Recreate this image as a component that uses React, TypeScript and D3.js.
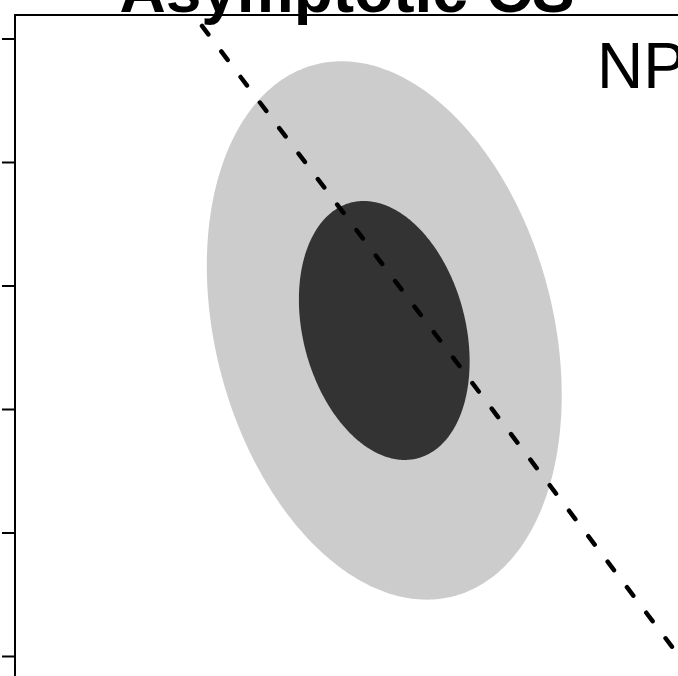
import React from "react";
import * as d3 from "d3";

// ---- data ----
const yTicks = [0.2, 0.4, 0.6, 0.8, 1.0, 1.2];
const centerXY = [0.598, 0.728];
const sdXY = [0.1174, 0.1781];
const rho = -0.24;
const levels = [0.95, 0.5];
const levelColors = ["#CCCCCC", "#333333"];
const lineStart = [0.3028, 1.2211];
const lineSlope = -1.3207;
const lineEndX = 1.2;
const titleText = "Asymptotic CS";
const labelText = "NP";

const W = 678;
const H = 676;

export default function App() {
  const x = d3.scaleLinear().domain([0, 1]).range([15, 632.5]);
  const y = d3.scaleLinear().domain([0.2, 1.2]).range([656.5, 39]);

  const lineGen = d3
    .line<[number, number]>()
    .x((d) => x(d[0]))
    .y((d) => y(d[1]))
    .curve(d3.curveLinearClosed);

  const ellipse = (level: number) => {
    const r = Math.sqrt(-2 * Math.log(1 - level));
    const pts: [number, number][] = d3.range(0, 360).map((i) => {
      const t = (i / 360) * 2 * Math.PI;
      const c = Math.cos(t);
      const s = Math.sin(t);
      return [
        centerXY[0] + r * sdXY[0] * c,
        centerXY[1] + r * sdXY[1] * (rho * c + Math.sqrt(1 - rho * rho) * s),
      ];
    });
    return lineGen(pts) || "";
  };

  const lx1 = lineStart[0];
  const ly1 = lineStart[1];
  const lx2 = lineEndX;
  const ly2 = ly1 + lineSlope * (lx2 - lx1);

  return (
    <svg
      width={W}
      height={H}
      style={{ position: "absolute", left: 0, top: 0, display: "block", background: "#fff" }}
    >
      <rect x={0} y={0} width={W} height={H} fill="#fff" />
      {levels.map((lv, i) => (
        <path key={lv} d={ellipse(lv)} fill={levelColors[i]} stroke="none" />
      ))}
      <line
        x1={x(lx1)}
        y1={y(ly1)}
        x2={x(lx2)}
        y2={y(ly2)}
        stroke="#000"
        strokeWidth={4.5}
        strokeDasharray="10.5 21.5"
        strokeLinecap="round"
      />
      <rect x={15} y={15} width={664} height={680} fill="none" stroke="#000" strokeWidth={2} />
      {yTicks.map((v) => (
        <line key={v} x1={2} x2={15} y1={y(v)} y2={y(v)} stroke="#000" strokeWidth={2} />
      ))}
      <text
        x={347}
        y={12}
        textAnchor="middle"
        fontFamily="'Liberation Sans', Arial, Helvetica, sans-serif"
        fontWeight="bold"
        fontSize={64}
        fill="#000"
      >
        {titleText}
      </text>
      <text
        x={597}
        y={88}
        fontFamily="'Liberation Sans', Arial, Helvetica, sans-serif"
        fontSize={64}
        fill="#000"
      >
        {labelText}
      </text>
    </svg>
  );
}
